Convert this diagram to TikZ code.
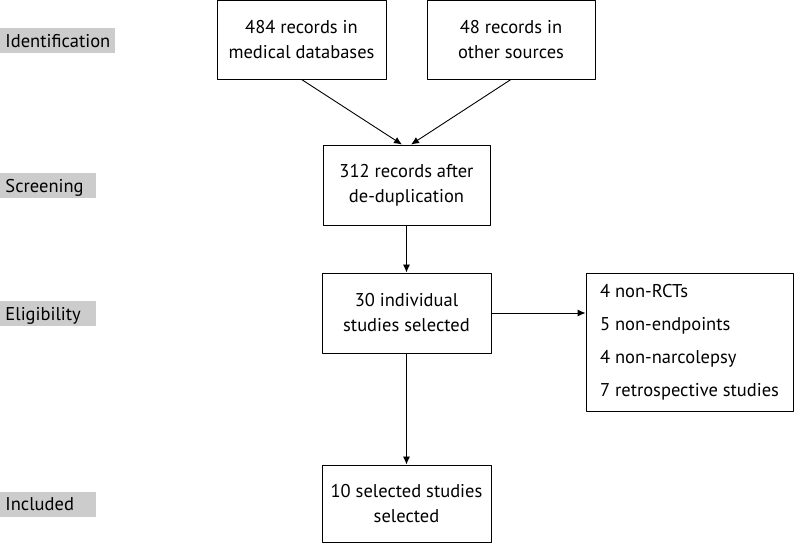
\documentclass[tikz,border=0pt]{standalone}
\usepackage{fontspec}
\setmainfont{PT Sans}
\usetikzlibrary{arrows.meta}
\begin{document}
\begin{tikzpicture}[>={Latex[length=8bp,width=7bp]},line join=bevel,line width=0.9bp,
    stepbox/.style={draw,rectangle,inner sep=0pt,align=center,
      font=\fontsize{18.5bp}{25bp}\selectfont},
    phase/.style={rectangle,fill=black!20,anchor=west,inner xsep=5bp,
      inner ysep=0pt,minimum height=25bp,text depth=0pt,
      font=\fontsize{18.5bp}{20bp}\selectfont},
    ]
    \useasboundingbox (0bp,0bp) rectangle (794bp,545bp);
    %%
    \node (ident) at (0bp,504.5bp) [phase,minimum width=115bp,align=left,text width=105bp] {Identification};
    \node (screen) at (0bp,359.5bp) [phase,minimum width=96bp,align=left,text width=86bp] {Screening};
    \node (elig) at (0bp,231.5bp) [phase,minimum width=96bp,align=left,text width=86bp] {Eligibility};
    \node (incl) at (0bp,40.5bp) [phase,minimum width=96bp,align=left,text width=86bp] {Included};
    %%
    \node (db) at (301.5bp,505.5bp) [stepbox,minimum width=169bp,minimum height=79bp] {484 records in\\medical databases};
    \node (other) at (511.0bp,505.5bp) [stepbox,minimum width=168bp,minimum height=79bp] {48 records in\\other sources};
    \node (dedup) at (406.5bp,360.0bp) [stepbox,minimum width=167bp,minimum height=80bp] {312 records after\\de-duplication};
    \node (indiv) at (406.5bp,232.0bp) [stepbox,minimum width=169bp,minimum height=80bp] {30 individual\\studies selected};
    \node (excl) at (689.5bp,203.0bp) [draw,rectangle,minimum width=207bp,minimum height=138bp,
      inner sep=0pt,align=left,font=\fontsize{18.5bp}{33bp}\selectfont]
      {4 non-RCTs\\5 non-endpoints\\4 non-narcolepsy\\7 retrospective studies};
    \node (final) at (406.5bp,41.5bp) [stepbox,minimum width=169bp,minimum height=77bp] {10 selected studies\\selected};
    %%
    \draw [->] (db.south) -- ([xshift=-4.5bp]dedup.north);
    \draw [->] (other.south) -- ([xshift=4.5bp]dedup.north);
    \draw [->] (dedup) -- (indiv);
    \draw [->] (indiv.east) -- (indiv.east -| excl.west);
    \draw [->] (indiv) -- (final);
    %
\end{tikzpicture}
\end{document}
